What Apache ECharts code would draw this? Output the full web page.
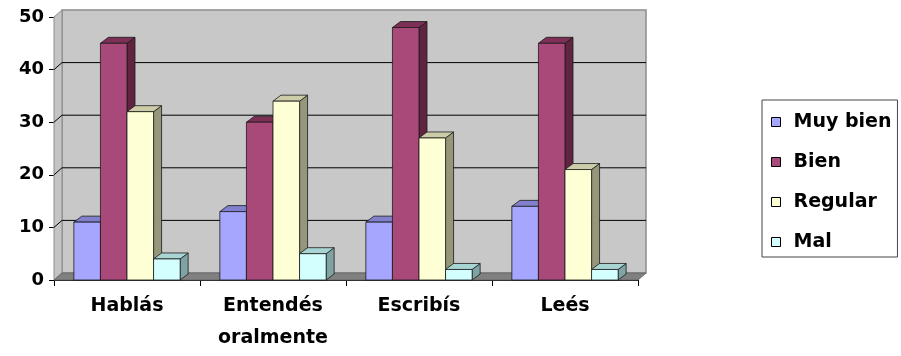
<!DOCTYPE html>
<html style="height: 100%">
<head>
  <meta charset="utf-8" />
  <title>Encuesta</title>
  <script src="https://cdn.jsdelivr.net/npm/echarts@6/dist/echarts.min.js"></script>
</head>
<body style="height: 100%; margin: 0; overflow: hidden; background: #fff">
  <div id="container" style="width: 901px; height: 356px"></div>
  <script>
    // datos del grafico
    var categories = ["Hablás", "Entendés\noralmente", "Escribís", "Leés"];
    var seriesNames = ["Muy bien", "Bien", "Regular", "Mal"];
    var muyBien = [11, 13, 11, 14];
    var bien = [45, 30, 48, 45];
    var regular = [32, 34, 27, 21];
    var mal = [4, 5, 2, 2];
    var yTicks = [0, 10, 20, 30, 40, 50];

    // colores: frente, tapa, costado
    var faces = [
      ["#a6a6ff", "#8080cc", "#6a6aa8"],
      ["#a9497a", "#7d2f56", "#602440"],
      ["#ffffd5", "#cccca8", "#96967a"],
      ["#d4ffff", "#a8d4d4", "#7fa3a3"]
    ];
    var font = "DejaVu Sans";
    var barDx = 8, barDy = 6, wallDx = 8, wallDy = 7;

    var dom = document.getElementById("container");
    var myChart = echarts.init(dom, null, { renderer: "canvas" });

    function barRenderer(idx) {
      return function (params, api) {
        var cat = api.value(0), val = api.value(1);
        var base = api.coord([cat, 0]);
        var top = api.coord([cat, val]);
        var bw = api.size([1, 0])[0] * 0.182;
        var x0 = base[0] + (idx - 2) * bw, x1 = x0 + bw;
        var yt = top[1], yb = base[1];
        var st = { stroke: "#1a1a1a", lineWidth: 0.8 };
        return {
          type: "group",
          children: [
            { type: "polygon", shape: { points: [[x1, yt], [x1 + barDx, yt - barDy], [x1 + barDx, yb - barDy], [x1, yb]] },
              style: Object.assign({ fill: faces[idx][2] }, st) },
            { type: "polygon", shape: { points: [[x0, yt], [x1, yt], [x1 + barDx, yt - barDy], [x0 + barDx, yt - barDy]] },
              style: Object.assign({ fill: faces[idx][1] }, st) },
            { type: "rect", shape: { x: x0, y: yt, width: bw, height: yb - yt },
              style: Object.assign({ fill: faces[idx][0] }, st) }
          ]
        };
      };
    }

    function wallRenderer(params, api) {
      var cs = params.coordSys;
      var x = cs.x, w = cs.width;
      var yTop = api.coord([0, 50])[1], yBot = api.coord([0, 0])[1];
      var kids = [
        // pared del fondo
        { type: "rect", shape: { x: x + wallDx, y: yTop - wallDy, width: w, height: yBot - yTop },
          style: { fill: "#c8c8c8", stroke: "#8c8c8c", lineWidth: 1.5 } },
        // pared izquierda
        { type: "polygon", shape: { points: [[x, yBot], [x, yTop], [x + wallDx, yTop - wallDy], [x + wallDx, yBot - wallDy]] },
          style: { fill: "#c4c4c4", stroke: "#8c8c8c", lineWidth: 1 } },
        // piso
        { type: "polygon", shape: { points: [[x, yBot], [x + w, yBot], [x + w + wallDx, yBot - wallDy], [x + wallDx, yBot - wallDy]] },
          style: { fill: "#808080", stroke: "#666", lineWidth: 1 } }
      ];
      yTicks.forEach(function (v) {
        if (v === 0 || v === 50) return;
        var y = api.coord([0, v])[1];
        kids.push({ type: "polyline", shape: { points: [[x, y], [x + wallDx, y - wallDy], [x + w + wallDx, y - wallDy]] },
          style: { stroke: "#000", lineWidth: 1, fill: null } });
      });
      return { type: "group", children: kids };
    }

    var valueLists = [muyBien, bien, regular, mal];
    var series = [{
      type: "custom",
      name: "_walls",
      renderItem: wallRenderer,
      data: [[0, 0]],
      clip: false,
      silent: true,
      z: 1
    }];
    seriesNames.forEach(function (n, i) {
      series.push({
        type: "custom",
        name: n,
        renderItem: barRenderer(i),
        data: valueLists[i].map(function (v, c) { return [c, v]; }),
        itemStyle: { color: faces[i][0], borderColor: "#000", borderWidth: 1 },
        clip: false,
        z: 2 + i
      });
    });

    var option = {
      animation: false,
      grid: { left: 54, right: 263, top: 17, bottom: 76 },
      legend: {
        data: seriesNames,
        orient: "vertical",
        left: 762,
        top: 100,
        padding: [12, 6, 5, 9],
        itemWidth: 9,
        itemHeight: 9,
        itemGap: 20,
        icon: "rect",
        borderColor: "#444",
        borderWidth: 1,
        borderRadius: 0,
        itemStyle: { borderColor: "#000", borderWidth: 1 },
        textStyle: { fontFamily: font, fontWeight: "bold", fontSize: 19, color: "#000", lineHeight: 20, padding: [0, 0, 0, 8] }
      },
      xAxis: {
        type: "category",
        data: categories,
        boundaryGap: true,
        axisLine: { lineStyle: { color: "#000", width: 1 } },
        axisTick: { show: true, interval: 0, length: 6, lineStyle: { color: "#000" } },
        axisLabel: { interval: 0, margin: 10, fontFamily: font, fontWeight: "bold", fontSize: 19, color: "#000", lineHeight: 32 },
        splitLine: { show: false }
      },
      yAxis: {
        type: "value",
        min: 0,
        max: 50,
        interval: 10,
        axisLine: { show: true, lineStyle: { color: "#000", width: 1 } },
        axisTick: { show: true, length: 5, lineStyle: { color: "#000" } },
        axisLabel: { margin: 10, fontFamily: font, fontWeight: "bold", fontSize: 18, color: "#000" },
        splitLine: { show: false }
      },
      series: series
    };
    myChart.setOption(option);
  </script>
</body>
</html>
